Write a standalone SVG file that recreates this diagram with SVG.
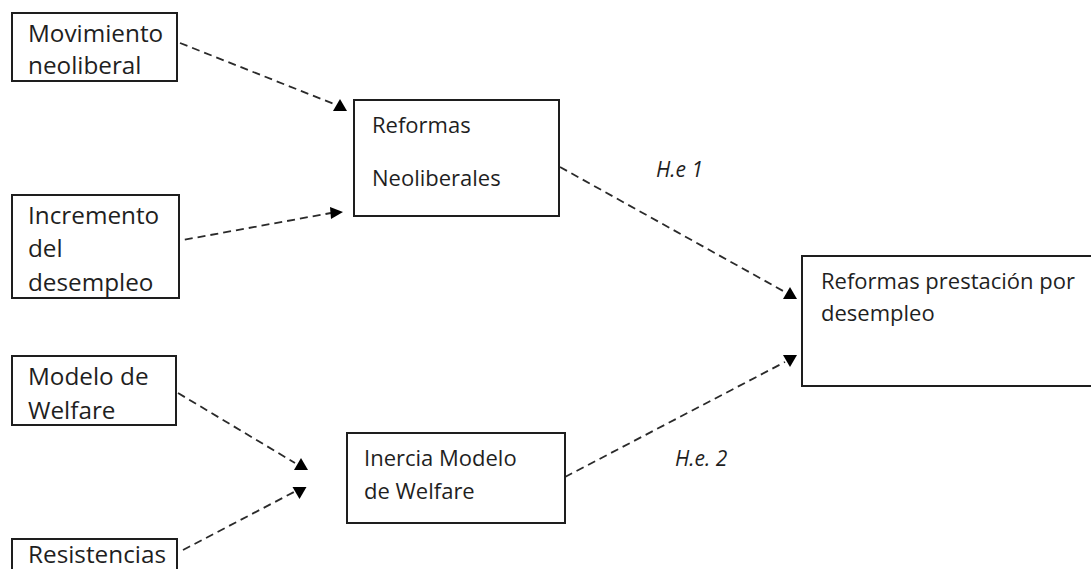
<svg xmlns="http://www.w3.org/2000/svg" xmlns:xlink="http://www.w3.org/1999/xlink" width="1091" height="569" viewBox="0 0 1091 569">
<style>
.box{fill:#fff;stroke:#1e1e1e;stroke-width:2}
.t{font-family:"Open Sans","Liberation Sans",sans-serif;fill:#1f1f1f}
.big{font-size:24.3px}
.mid{font-size:22px}
.lbl{font-family:"Open Sans","Liberation Sans",sans-serif;font-size:21px;font-style:italic;fill:#1f1f1f}
.dash{fill:none;stroke:#2a2a2a;stroke-width:1.8;stroke-dasharray:8 5}
.head{fill:#000}
</style>
<defs>
<polygon id="tri-up" class="head" points="-7,6 0,-6 7,6"/>
<polygon id="tri-down" class="head" points="-7,-6 7,-6 0,6"/>
</defs>
<rect width="1091" height="569" fill="#fff"/>
<g id="connectors">
<path class="dash" d="M180,43 L334,104"/>
<use xlink:href="#tri-up" x="340" y="105"/>
<path class="dash" d="M172,242 L331,213"/>
<polygon class="head" points="330,207 343,212 331,219"/>
<path class="dash" d="M560,167 L785,292"/>
<use xlink:href="#tri-up" x="790" y="293"/>
<path class="dash" d="M178,393 L295,463"/>
<use xlink:href="#tri-up" x="301" y="464"/>
<path class="dash" d="M183,550 L294,492"/>
<use xlink:href="#tri-down" x="299.5" y="493"/>
<path class="dash" d="M565,477 L785,362"/>
<use xlink:href="#tri-down" x="790" y="361"/>
<text class="lbl" x="656" y="177">H.e 1</text>
<text class="lbl" x="675" y="466">H.e. 2</text>
</g>
<g id="movimiento">
<rect class="box" x="12" y="13" width="165" height="68"/>
<text class="t big" x="28" y="42">Movimiento</text>
<text class="t big" x="28" y="74">neoliberal</text>
</g>
<g id="incremento">
<rect class="box" x="12" y="195" width="167" height="103"/>
<text class="t big" x="28" y="224">Incremento</text>
<text class="t big" x="28" y="257">del</text>
<text class="t big" x="28" y="291">desempleo</text>
</g>
<g id="modelo">
<rect class="box" x="12" y="356" width="164" height="69"/>
<text class="t big" x="28" y="385">Modelo de</text>
<text class="t big" x="28" y="419">Welfare</text>
</g>
<g id="resistencias">
<rect class="box" x="12" y="539" width="165" height="45"/>
<text class="t big" x="28" y="563">Resistencias</text>
</g>
<g id="reformas-neoliberales">
<rect class="box" x="354" y="100" width="205" height="116"/>
<text class="t mid" x="372" y="133">Reformas</text>
<text class="t mid" x="372" y="186">Neoliberales</text>
</g>
<g id="inercia">
<rect class="box" x="347" y="433" width="218" height="90"/>
<text class="t mid" x="364" y="466">Inercia Modelo</text>
<text class="t mid" x="364" y="499">de Welfare</text>
</g>
<g id="reformas-prestacion">
<rect class="box" x="802" y="256" width="300" height="130"/>
<text class="t mid" x="821" y="289">Reformas prestación por</text>
<text class="t mid" x="821" y="321">desempleo</text>
</g>
</svg>
